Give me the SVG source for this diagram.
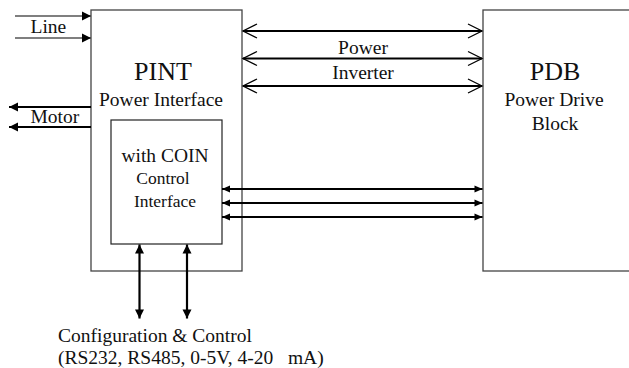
<svg xmlns="http://www.w3.org/2000/svg" width="629" height="368" viewBox="0 0 629 368">
<style>
text{font-family:"Liberation Serif","Times New Roman",serif;fill:#111}
.box{fill:#fff;stroke:#444;stroke-width:1.3}
.inner{fill:#fff;stroke:#222;stroke-width:1.2}
.thin{stroke:#555;stroke-width:1.3;fill:none}
.thick{stroke:#000;stroke-width:2.2;fill:none}
</style>
<defs>
<marker id="fa" markerUnits="userSpaceOnUse" markerWidth="12" markerHeight="10" viewBox="-10 -5 12 10" refX="0" refY="0" orient="auto-start-reverse">
<path d="M0,0 L-9,-4.5 L-9,4.5 Z" fill="#000"/>
</marker>
<marker id="fs" markerUnits="userSpaceOnUse" markerWidth="10" markerHeight="8" viewBox="-9 -4 10 8" refX="0" refY="0" orient="auto-start-reverse">
<path d="M0,0 L-8,-3.5 L-8,3.5 Z" fill="#000"/>
</marker>
<marker id="fv" markerUnits="userSpaceOnUse" markerWidth="18" markerHeight="18" viewBox="-16 -9 18 18" refX="0" refY="0" orient="auto-start-reverse">
<path d="M-14,-7 L0,0 L-14,7" fill="none" stroke="#000" stroke-width="1.3"/>
</marker>
</defs>
<g id="pint">
<rect class="box" x="91" y="10" width="151" height="261"/>
<text x="163" y="80" font-size="26" text-anchor="middle">PINT</text>
<text x="161" y="106" font-size="19.5" text-anchor="middle">Power Interface</text>
</g>
<g id="coin">
<rect class="inner" x="111" y="120" width="111" height="124"/>
<text x="165" y="162" font-size="19.5" text-anchor="middle">with COIN</text>
<text x="163" y="184" font-size="17.5" text-anchor="middle">Control</text>
<text x="165" y="207" font-size="17.5" text-anchor="middle">Interface</text>
</g>
<g id="pdb">
<rect class="box" x="483" y="10" width="160" height="261"/>
<text x="555" y="80" font-size="26" text-anchor="middle">PDB</text>
<text x="554" y="106" font-size="19.5" text-anchor="middle">Power Drive</text>
<text x="555" y="130" font-size="19.5" text-anchor="middle">Block</text>
</g>
<g id="connectors">
<line class="thin" x1="15" y1="16" x2="91" y2="16" marker-end="url(#fa)"/>
<line class="thin" x1="15" y1="38" x2="91" y2="38" marker-end="url(#fa)"/>
<line class="thick" x1="91" y1="107" x2="9" y2="107" marker-end="url(#fa)"/>
<line class="thick" x1="91" y1="127" x2="9" y2="127" marker-end="url(#fa)"/>
<line class="thick" x1="243" y1="31" x2="482" y2="31" marker-start="url(#fv)" marker-end="url(#fv)"/>
<line class="thick" x1="243" y1="58.5" x2="482" y2="58.5" marker-start="url(#fv)" marker-end="url(#fv)"/>
<line class="thick" x1="243" y1="86" x2="482" y2="86" marker-start="url(#fv)" marker-end="url(#fv)"/>
<line class="thick" x1="222" y1="189" x2="482.5" y2="189" marker-start="url(#fs)" marker-end="url(#fs)"/>
<line class="thick" x1="222" y1="203" x2="482.5" y2="203" marker-start="url(#fs)" marker-end="url(#fs)"/>
<line class="thick" x1="222" y1="217" x2="482.5" y2="217" marker-start="url(#fs)" marker-end="url(#fs)"/>
<line class="thick" x1="139.5" y1="244.5" x2="139.5" y2="318.5" marker-start="url(#fa)" marker-end="url(#fa)"/>
<line class="thick" x1="187" y1="244.5" x2="187" y2="318.5" marker-start="url(#fa)" marker-end="url(#fa)"/>
</g>
<g id="labels">
<text x="30.5" y="32.5" font-size="19.5">Line</text>
<text x="30.5" y="122.5" font-size="19.5">Motor</text>
<text x="363" y="53.5" font-size="19.5" text-anchor="middle">Power</text>
<text x="363" y="78.5" font-size="19.5" text-anchor="middle">Inverter</text>
<text x="58" y="341.5" font-size="19.5">Configuration &amp; Control</text>
<text x="58" y="364" font-size="19.5" xml:space="preserve">(RS232, RS485, 0-5V, 4-20   mA)</text>
</g>
</svg>
